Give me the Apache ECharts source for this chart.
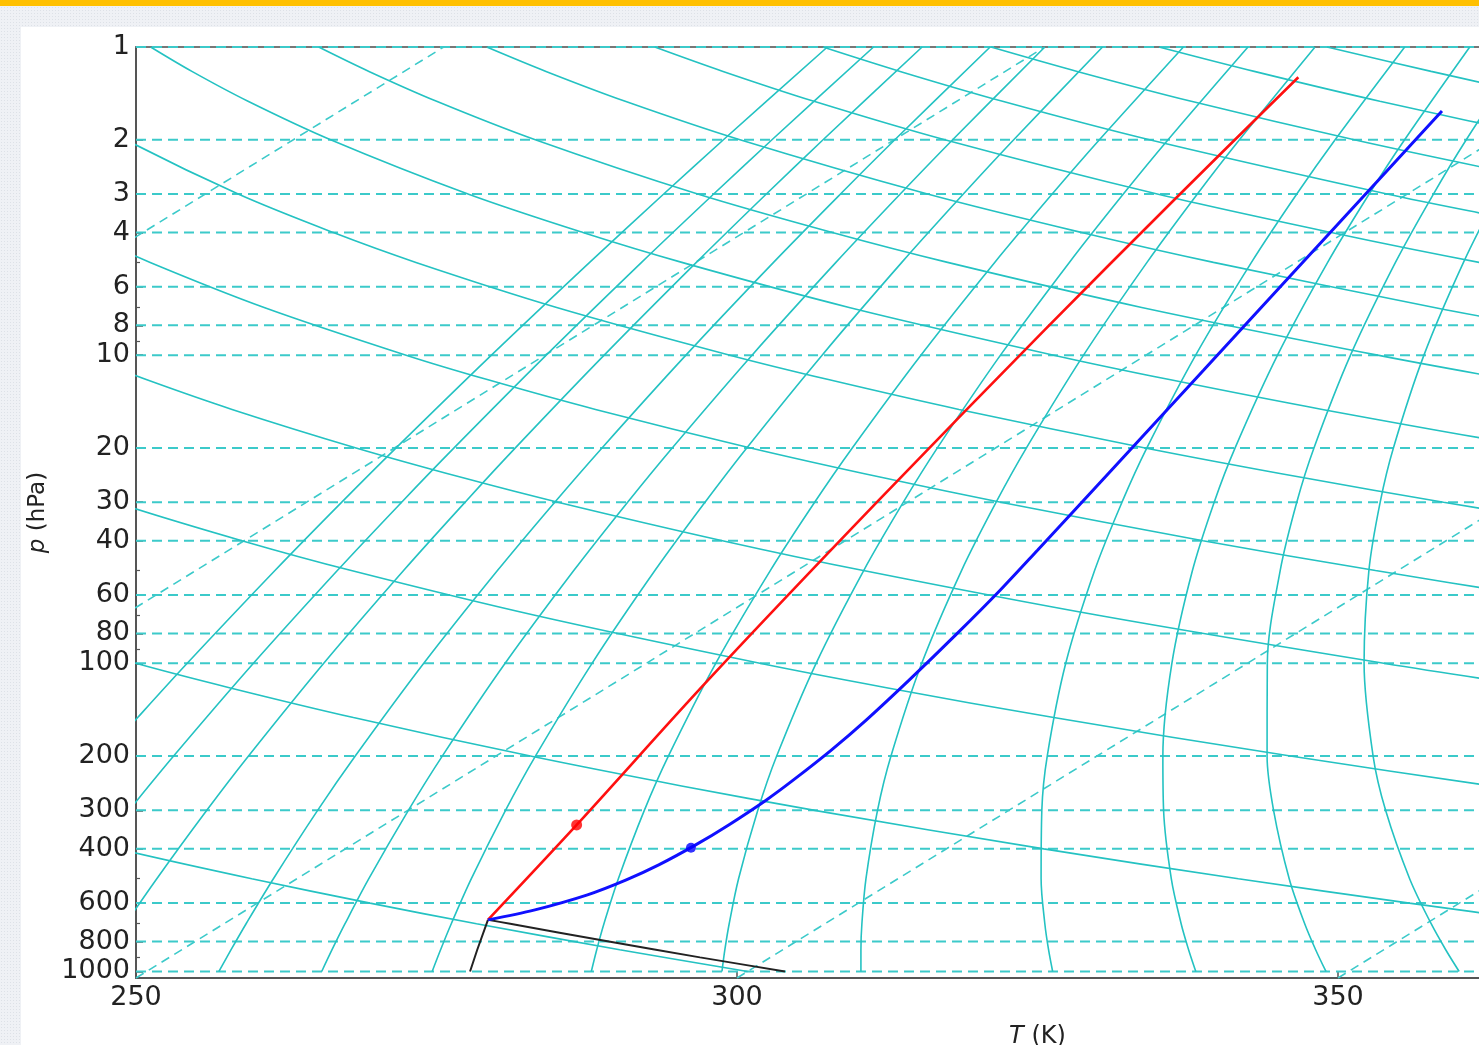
<!DOCTYPE html>
<html><head><meta charset="utf-8">
<script src="https://cdn.jsdelivr.net/npm/echarts@6/dist/echarts.min.js"></script>
<style>
html,body{margin:0;padding:0;width:1479px;height:1045px;overflow:hidden;}
body{position:relative;background-color:#eff1f5;background-image:radial-gradient(#dde1e7 0.9px,transparent 0.9px);background-size:3px 3px;}
#topbar{position:absolute;left:0;top:0;width:1479px;height:6px;background:#ffc000;}
#panel{position:absolute;left:21px;top:27px;right:0;bottom:0;background:#ffffff;}
#chart{position:absolute;left:0;top:0;width:1479px;height:1045px;}
</style></head>
<body><div id="topbar"></div><div id="panel"></div><div id="chart"></div>
<script>
// ---- tick values ----
const pressureTicks = [1,2,3,4,6,8,10,20,30,40,60,80,100,200,300,400,600,800,1000];
const pressureMinorTicks = [5,7,9,50,70,90,500,700,900];

// ---- dashed isotherms: T at the bottom axis (1050 hPa) and skewed value at 1 hPa ----
const isothermT = [150, 200, 250, 300, 350];
const isothermTopX = [275.6, 325.6, 375.6, 425.6, 475.6];

// ---- dry adiabats [skewed T, p] ----
const theta300 = [[300.88,1000],[290.24,850],[278.33,700],[269.47,600],[259.63,500],[248.49,400],[235.49,300]];
const theta400 = [[368.67,700],[355.93,600],[341.71,500],[325.52,400],[306.46,300],[295.39,250],[282.81,200],[268.09,150],[257.77,120],[249.99,100],[236.38,70]];
const theta500 = [[377.43,300],[362.77,250],[346.04,200],[326.35,150],[312.44,120],[301.90,100],[283.27,70],[267.91,50],[258.81,40],[248.27,30],[235.49,20]];
const theta600 = [[384.61,150],[367.11,120],[353.80,100],[330.16,70],[310.51,50],[298.79,40],[285.10,30],[277.21,25],[268.31,20],[257.99,15],[250.85,12],[245.53,10]];
const theta700 = [[405.70,100],[377.05,70],[365.73,60],[353.12,50],[338.77,40],[321.94,30],[312.18,25],[301.13,20],[288.23,15],[279.22,12],[272.47,10],[260.66,7],[251.18,5],[245.67,4]];
const theta800 = [[395.73,50],[378.75,40],[369.21,35],[358.78,30],[347.16,25],[333.95,20],[318.47,15],[307.60,12],[299.41,10],[285.00,7],[273.29,5],[266.42,4],[258.50,3],[249.15,2],[243.62,1.5]];
const theta900 = [[395.61,30],[366.77,20],[348.70,15],[335.97,12],[326.35,10],[309.33,7],[295.41,5],[287.18,4],[277.62,3],[266.19,2],[259.32,1.5],[254.65,1.2],[251.22,1]];
const theta1000 = [[378.94,15],[364.35,12],[353.29,10],[333.67,7],[317.52,5],[307.93,4],[296.73,3],[283.22,2],[275.01,1.5],[269.38,1.2],[265.20,1]];
const theta1100 = [[380.23,10],[366.00,8],[358.01,7],[339.64,5],[328.68,4],[315.85,3],[300.25,2],[290.70,1.5],[284.11,1.2],[279.18,1]];
const theta1200 = [[382.34,7],[361.75,5],[349.44,4],[334.96,3],[317.29,2],[306.40,1.5],[298.84,1.2],[293.16,1]];
const theta1300 = [[383.87,5],[370.19,4],[362.50,3.5],[354.08,3],[334.32,2],[322.09,1.5],[313.57,1.2],[307.15,1]];
const theta1400 = [[373.19,3],[363.00,2.5],[351.35,2],[337.79,1.5],[328.30,1.2],[321.13,1]];
const theta1500 = [[381.15,2.5],[368.39,2],[353.48,1.5],[343.03,1.2],[335.11,1]];
const theta1600 = [[385.42,2],[369.17,1.5],[357.75,1.2],[349.09,1]];
const theta1700 = [[372.48,1.2],[363.07,1]];

// ---- saturation mixing-ratio lines [skewed T, p] ----
const mix0p1 = [[247.28,200],[250.14,150],[254.26,100],[261.56,50],[267.12,30],[271.64,20],[279.57,10],[287.74,5],[293.90,3],[298.87,2],[307.52,1]];
const mix0p2 = [[249.42,300],[253.13,200],[259.77,100],[266.75,50],[272.10,30],[276.46,20],[284.13,10],[292.06,5],[298.06,3],[302.91,2],[311.36,1]];
const mix0p4 = [[249.13,700],[251.73,500],[255.89,300],[259.36,200],[265.62,100],[272.26,50],[277.38,30],[281.56,20],[288.95,10],[296.62,5],[302.44,3],[307.16,2],[315.40,1]];
const mix1 = [[256.90,1000],[257.91,850],[259.16,700],[261.43,500],[265.11,300],[268.24,200],[273.94,100],[280.07,50],[284.84,30],[288.77,20],[295.75,10],[303.04,5],[308.61,3],[313.13,2],[321.06,1]];
const mix2 = [[265.45,1000],[266.31,850],[267.39,700],[269.37,500],[272.66,300],[275.48,200],[280.71,100],[286.42,50],[290.90,30],[294.61,20],[301.25,10],[308.23,5],[313.58,3],[317.94,2],[325.61,1]];
const mix4 = [[274.64,1000],[275.34,850],[276.23,700],[277.90,500],[280.74,300],[283.23,200],[287.94,100],[293.17,50],[297.34,30],[300.81,20],[307.08,10],[313.71,5],[318.83,3],[323.02,2],[330.41,1]];
const mix10 = [[287.88,1000],[288.33,850],[288.93,700],[290.13,500],[292.29,300],[294.29,200],[298.23,100],[302.77,50],[306.46,30],[309.59,20],[315.30,10],[321.44,5],[326.22,3],[330.15,2],[337.14,1]];
const mix20 = [[298.75,1000],[298.99,850],[299.35,700],[300.13,500],[301.73,300],[303.30,200],[306.58,100],[310.54,50],[313.84,30],[316.67,20],[321.92,10],[327.65,5],[332.14,3],[335.86,2],[342.51,1]];
const mix40 = [[310.31,1000],[310.31,850],[310.39,700],[310.73,500],[311.69,300],[312.81,200],[315.37,100],[318.68,50],[321.56,30],[324.08,20],[328.83,10],[334.11,5],[338.30,3],[341.80,2],[348.09,1]];
const mix100 = [[326.26,1000],[325.92,850],[325.61,700],[325.30,500],[325.36,300],[325.81,200],[327.35,100],[329.75,50],[332.03,30],[334.10,20],[338.16,10],[342.80,5],[346.57,3],[349.76,2],[355.55,1]];
const mix200 = [[338.17,1000],[337.57,850],[336.95,700],[336.13,500],[335.49,300],[335.43,200],[336.18,100],[337.89,50],[339.70,30],[341.44,20],[344.97,10],[349.14,5],[352.59,3],[355.54,2],[360.96,1]];
const mix400 = [[349.00,1000],[348.14,850],[347.23,700],[345.94,500],[344.64,300],[344.10,200],[344.12,100],[345.19,50],[346.57,30],[348.00,20],[351.04,10],[354.78,5],[357.94,3],[360.67,2],[365.75,1]];
const mix1000 = [[360.08,1000],[358.96,850],[357.75,700],[355.96,500],[353.96,300],[352.92,200],[352.17,100],[352.57,50],[353.51,30],[354.61,20],[357.15,10],[360.44,5],[363.30,3]];

// ---- parcel / profile lines ----
const blackDryLine = [[303.99,1000],[296.92,900],[289.34,800],[281.13,700],[279.28,680]];
const blackMixLine = [[277.79,1000],[278.39,850],[279.28,680]];
const redProfile = [[279.28,680],[286.66,334.5],[297.61,113.2],[311.82,29.5],[325.60,8.28],[336.36,3.136],[346.70,1.254]];
const blueProfile = [[279.28,680],[283.19,631.1],[287.56,564.1],[290.79,504.4],[293.49,451.0],[296.56,388.4],[299.31,334.5],[302.45,277.5],[304.70,239.0],[307.87,190.9],[310.77,152.6],[314.34,113.2],[318.28,80.28],[321.91,57.8],[325.02,42.86],[331.17,23.58],[338.83,11.17],[346.48,5.291],[354.14,2.506],[358.65,1.613]];
const redMarker = [[286.66,334.5]];
const blueMarker = [[296.17,397.0]];

const dryAdiabats = [theta300,theta400,theta500,theta600,theta700,theta800,theta900,theta1000,theta1100,theta1200,theta1300,theta1400,theta1500,theta1600,theta1700];
const mixingLines = [mix0p1,mix0p2,mix0p4,mix1,mix2,mix4,mix10,mix20,mix40,mix100,mix200,mix400,mix1000];

const CYAN = '#24c2c2';
const CYAN_D = '#3ccaca';
function ln(data, style, extra) {
  return Object.assign({type:'line', data:data, symbol:'none', showSymbol:false, silent:true,
    animation:false, clip:true, lineStyle:style, z:2}, extra||{});
}
const series = [];
pressureTicks.forEach(p => series.push(ln([[250,p],[400,p]], {color:CYAN_D, width:2, type:[10,6]})));
isothermT.forEach((T,i) => series.push(ln([[T,1050],[isothermTopX[i],1]], {color:CYAN_D, width:1.6, type:[9,6]})));
dryAdiabats.forEach(d => series.push(ln(d, {color:CYAN, width:1.6}, {smooth:0.33})));
mixingLines.forEach(d => series.push(ln(d, {color:CYAN, width:1.6}, {smooth:0.33})));
series.push(ln(blackDryLine, {color:'#222', width:2}, {z:5, smooth:0.2}));
series.push(ln(blackMixLine, {color:'#222', width:2}, {z:5}));
series.push(ln(redProfile, {color:'#ff1010', width:2.6}, {z:6, smooth:0.33}));
series.push(ln(blueProfile, {color:'#1010ff', width:3}, {z:6, smooth:0.33}));
series.push({type:'scatter', data:redMarker, symbol:'circle', symbolSize:11, itemStyle:{color:'#ff0000'}, z:7, silent:true, animation:false});
series.push({type:'scatter', data:blueMarker, symbol:'circle', symbolSize:10, itemStyle:{color:'#0000ff'}, z:7, silent:true, animation:false});

const AX = '#555';
const TXT = '#222';
const option = {
  animation:false,
  backgroundColor:'transparent',
  textStyle:{fontFamily:'DejaVu Sans'},
  grid:{left:136, top:47, width:1803, height:931, containLabel:false, outerBoundsMode:'none'},
  xAxis:[{
    type:'value', min:250, max:400, interval:50, position:'bottom',
    axisLine:{show:true, onZero:false, lineStyle:{color:AX, width:2}},
    axisTick:{show:true, inside:true, length:6, lineStyle:{color:AX, width:1.5}},
    axisLabel:{fontSize:27, color:TXT, fontFamily:'DejaVu Sans', margin:6},
    splitLine:{show:false},
    name:'{i|T} (K)', nameLocation:'middle', nameGap:47,
    nameTextStyle:{fontSize:24, color:TXT, fontFamily:'DejaVu Sans',
      rich:{i:{fontSize:24, fontStyle:'italic', color:TXT, fontFamily:'DejaVu Sans'}}}
  },{
    type:'value', min:250, max:400, position:'top',
    axisLine:{show:true, onZero:false, lineStyle:{color:'#777', width:2}},
    axisTick:{show:false}, axisLabel:{show:false}, splitLine:{show:false}
  }],
  yAxis:[{
    type:'log', logBase:10, min:1, max:1050, inverse:true, position:'left',
    axisLine:{show:true, onZero:false, lineStyle:{color:AX, width:2}},
    axisTick:{show:true, inside:true, length:7, customValues:pressureTicks, lineStyle:{color:AX, width:1.5}},
    axisLabel:{customValues:pressureTicks, fontSize:27, color:TXT, fontFamily:'DejaVu Sans', margin:6,
      formatter:function(v){return String(Math.round(v));}},
    minorTick:{show:false}, splitLine:{show:false},
    name:'{i|p} (hPa)', nameLocation:'middle', nameGap:86, nameRotate:90,
    nameTextStyle:{fontSize:23, color:TXT, fontFamily:'DejaVu Sans',
      rich:{i:{fontSize:23, fontStyle:'italic', color:TXT, fontFamily:'DejaVu Sans'}}}
  },{
    type:'log', logBase:10, min:1, max:1050, inverse:true, position:'left', offset:0,
    axisLine:{show:false},
    axisTick:{show:true, inside:true, length:4, customValues:pressureMinorTicks, lineStyle:{color:AX, width:1.2}},
    axisLabel:{show:false}, splitLine:{show:false}
  }],
  series:series
};
const chart = echarts.init(document.getElementById('chart'), null, {renderer:'canvas'});
chart.setOption(option);
</script>
</body></html>
